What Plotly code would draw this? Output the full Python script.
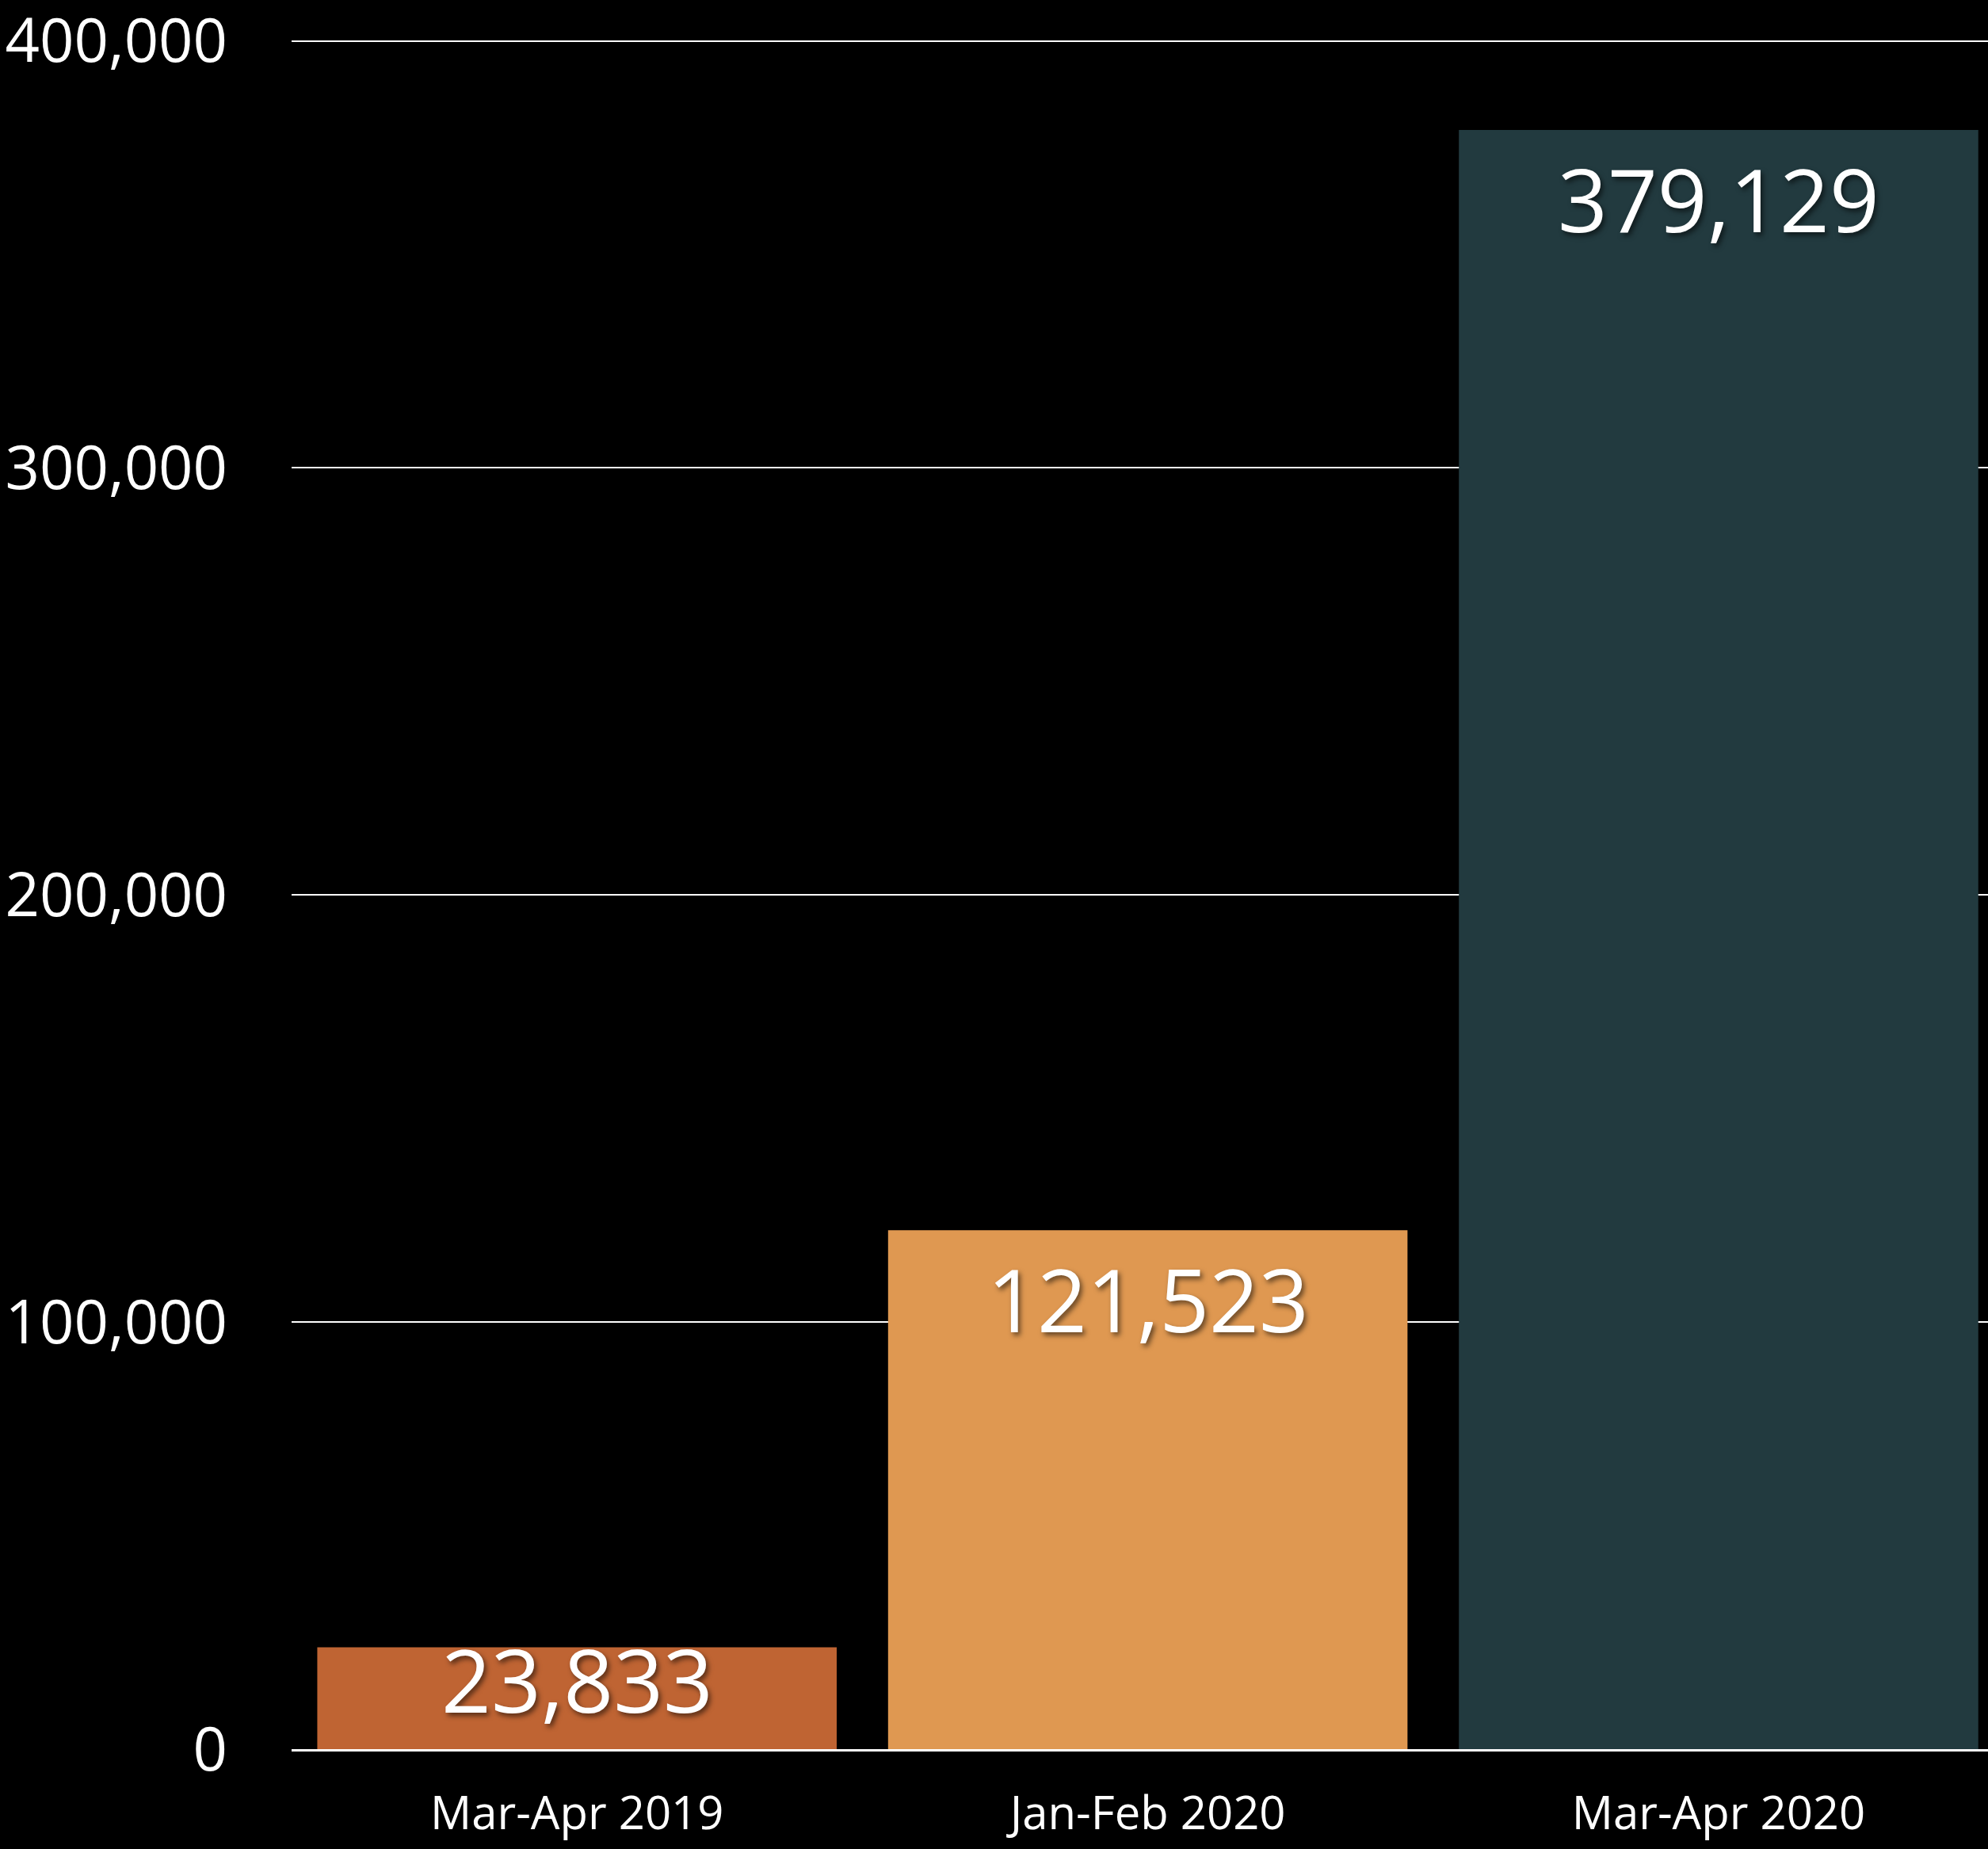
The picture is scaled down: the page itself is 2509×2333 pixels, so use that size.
import plotly.graph_objects as go

# data
periods = ["Mar-Apr 2019", "Jan-Feb 2020", "Mar-Apr 2020"]
counts = [23833, 121523, 379129]
bar_colors = ["#BF6433", "#DF9851", "#223A3F"]
y_ticks = [0, 100000, 200000, 300000, 400000]

FONT = "Open Sans"
LABEL_MIN = 40000  # bars shorter than this can't hold the label below their top

fig = go.Figure()

fig.add_trace(go.Bar(
    x=periods,
    y=counts,
    marker=dict(color=bar_colors, line=dict(width=0)),
    hoverinfo="skip",
))

# value labels, "inside end" like the original; short bars get the label sat on the base
for p, v in zip(periods, counts):
    if v >= LABEL_MIN:
        fig.add_annotation(x=p, y=v, yanchor="top", yshift=-9)
    else:
        fig.add_annotation(x=p, y=0, yanchor="bottom", yshift=12)
    fig.layout.annotations[-1].update(
        text=f"{v:,}", showarrow=False, xanchor="center",
        font=dict(family=FONT, size=110, color="white",
                  shadow="3px 4px 6px rgba(0,0,0,0.55)"),
    )

fig.update_layout(
    width=2509,
    height=2333,
    paper_bgcolor="#000000",
    plot_bgcolor="#000000",
    margin=dict(l=368, r=0, t=50, b=126),
    bargap=0.09,
    showlegend=False,
    font=dict(family=FONT, color="white"),
)

fig.update_xaxes(
    range=[-0.5, 2.472],
    showgrid=False,
    showline=True,
    linecolor="white",
    linewidth=3,
    ticks="",
    tickfont=dict(family=FONT, size=58, color="white"),
    ticklabelstandoff=28,
    automargin=False,
)

fig.update_yaxes(
    range=[0, 400300],
    tickvals=y_ticks,
    tickformat=",",
    showgrid=True,
    gridcolor="white",
    gridwidth=2,
    zeroline=False,
    showline=False,
    ticks="",
    tickfont=dict(family=FONT, size=76, color="white"),
    ticklabelstandoff=80,
    ticklabeloverflow="allow",
    automargin=False,
)

fig.write_html(
    "out.html",
    config={"displayModeBar": False},
    post_script="document.body.style.margin='0';document.body.style.background='#000';",
)
